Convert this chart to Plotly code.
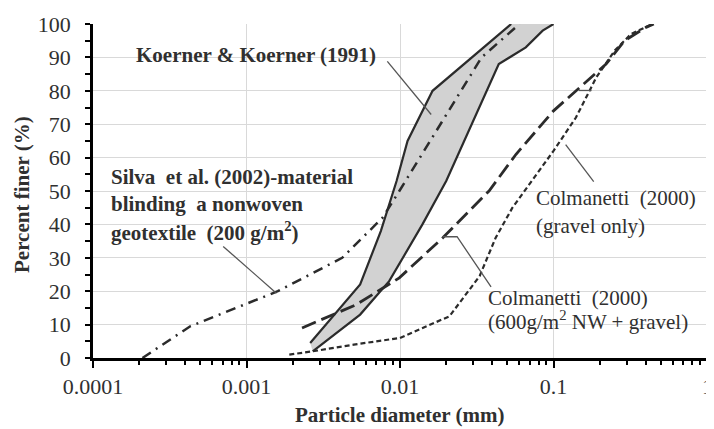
import plotly.graph_objects as go

# ---- data ----
koerner_upper_d = [0.0026, 0.0055, 0.0075, 0.0095, 0.0112, 0.0163, 0.053]
koerner_upper_p = [4.5, 22, 38, 53, 65, 80, 100]
koerner_lower_d = [0.0027, 0.0055, 0.0085, 0.014, 0.02, 0.044, 0.066, 0.085, 0.1]
koerner_lower_p = [2, 13, 23, 40, 53, 88, 93, 98, 100]
silva_d = [0.00021, 0.00043, 0.0016, 0.0042, 0.0077, 0.0099, 0.034, 0.06]
silva_p = [0, 9.5, 20, 30, 42, 50, 90, 100]
nw_d = [0.0023, 0.0052, 0.0099, 0.019, 0.038, 0.057, 0.1, 0.14, 0.22, 0.29, 0.4, 0.45]
nw_p = [9, 16, 24, 36, 50, 61, 74, 80, 88, 95, 99, 100]
gravel_d = [0.0019, 0.0027, 0.005, 0.01, 0.021, 0.033, 0.042, 0.054, 0.1, 0.14, 0.19, 0.25, 0.32, 0.44]
gravel_p = [1, 2, 4, 6, 12.5, 24.5, 36, 45, 62, 72, 84, 92, 97, 100]

# leader lines (annotation pointers)
koerner_leader_d = [0.00827, 0.01596]
koerner_leader_p = [88.8, 72.9]
silva_leader_d = [0.000705, 0.001567]
silva_leader_p = [33.4, 19.4]
gravel_leader_d = [0.1828, 0.120]
gravel_leader_p = [52.8, 63.9]
nw_leader_d = [0.0392, 0.02355, 0.01883]
nw_leader_p = [21.3, 36.3, 36.3]
stub_d = [0.146, 0.177]
stub_p = [80.1, 80.1]

x_tickvals = [0.0001, 0.001, 0.01, 0.1, 1]
x_ticktext = ["0.0001", "0.001", "0.01", "0.1", ""]
x_last_label = "1"

LINE = "#2b2b2b"
TXT = "#303030"
SERIF = "Liberation Serif, DejaVu Serif, serif"

fig = go.Figure()

# Koerner band fill
fig.add_trace(go.Scatter(
    x=koerner_upper_d + koerner_lower_d[::-1],
    y=koerner_upper_p + koerner_lower_p[::-1],
    fill="toself", fillcolor="#d2d2d2", mode="lines",
    line=dict(width=0), hoverinfo="skip", showlegend=False))
fig.add_trace(go.Scatter(x=koerner_upper_d, y=koerner_upper_p, mode="lines",
                         line=dict(color=LINE, width=2.2), showlegend=False))
fig.add_trace(go.Scatter(x=koerner_lower_d, y=koerner_lower_p, mode="lines",
                         line=dict(color=LINE, width=2.2), showlegend=False))
fig.add_trace(go.Scatter(x=silva_d, y=silva_p, mode="lines",
                         line=dict(color=LINE, width=2.5, dash="10px,6px,2px,6px"), showlegend=False))
fig.add_trace(go.Scatter(x=nw_d, y=nw_p, mode="lines",
                         line=dict(color=LINE, width=2.8, dash="15px,6px"), showlegend=False))
fig.add_trace(go.Scatter(x=gravel_d, y=gravel_p, mode="lines",
                         line=dict(color=LINE, width=2.2, dash="5px,3px"), showlegend=False))

for ld, lp in [(koerner_leader_d, koerner_leader_p), (silva_leader_d, silva_leader_p),
               (gravel_leader_d, gravel_leader_p), (nw_leader_d, nw_leader_p), (stub_d, stub_p)]:
    fig.add_trace(go.Scatter(x=ld, y=lp, mode="lines",
                             line=dict(color="#555555", width=1.3), hoverinfo="skip", showlegend=False))

def note(text, xlog, y, bold=False):
    t = "<b>" + text + "</b>" if bold else text
    fig.add_annotation(x=xlog, y=y, xref="x", yref="y", text=t, showarrow=False,
                       xanchor="left", yanchor="middle", xshift=-3,
                       font=dict(family=SERIF, size=21, color=TXT))

note("Koerner &amp; Koerner (1991)", -3.712, 90.7, bold=True)
note("Silva  et al. (2002)-material", -3.877, 54.3, bold=True)
note("blinding  a nonwoven", -3.877, 46.0, bold=True)
note("geotextile  (200 g/m<sup>2</sup>)", -3.877, 37.8, bold=True)
note("Colmanetti  (2000)", -1.110, 48.0)
note("(gravel only)", -1.110, 39.6)
note("Colmanetti  (2000)", -1.420, 18.0)
note("(600g/m<sup>2</sup> NW + gravel)", -1.420, 11.1)

# last x tick label (drawn as annotation so it is not hidden at the page edge)
fig.add_annotation(x=1, y=0, xref="paper", yref="paper", xanchor="center", yanchor="middle",
                   yshift=-28, text=x_last_label, showarrow=False,
                   font=dict(family=SERIF, size=22, color=TXT))

# axis titles
fig.add_annotation(x=0.5, y=0, xref="paper", yref="paper", yanchor="middle", yshift=-57,
                   text="<b>Particle diameter (mm)</b>", showarrow=False,
                   font=dict(family=SERIF, size=21, color=TXT))
fig.add_annotation(x=0, y=0.5, xref="paper", yref="paper", xanchor="center", yanchor="middle",
                   xshift=-71, yshift=-4, textangle=-90,
                   text="<b>Percent finer (%)</b>", showarrow=False,
                   font=dict(family=SERIF, size=21, color=TXT))

# gridline at the right edge (x = 1)
fig.add_shape(type="line", xref="paper", yref="paper", x0=1, x1=1, y0=0, y1=1,
              line=dict(color="#d9d9d9", width=1), layer="below")

# page body has an 8px default margin, so the figure is sized to fit the 714x429 window
fig.update_layout(
    width=706, height=421,
    margin=dict(l=85, r=7, t=16, b=71, autoexpand=False),
    paper_bgcolor="white", plot_bgcolor="white",
    font=dict(family=SERIF, color=TXT),
    xaxis=dict(
        type="log", range=[-4, 0], automargin=False,
        tickvals=x_tickvals, ticktext=x_ticktext,
        showgrid=True, gridcolor="#d9d9d9", gridwidth=1,
        showline=True, linecolor="black", linewidth=2.5,
        ticks="outside", ticklen=7, tickwidth=2, tickcolor="black",
        tickfont=dict(family=SERIF, size=22, color=TXT),
        ticklabelstandoff=0, ticklabeloverflow="allow",
        minor=dict(ticks="outside", ticklen=4, tickwidth=1.5, tickcolor="black",
                   dtick="D1", showgrid=False),
        zeroline=False,
    ),
    yaxis=dict(
        range=[0, 100], dtick=10, automargin=False,
        showgrid=True, gridcolor="#d9d9d9", gridwidth=1,
        showline=True, linecolor="black", linewidth=2.5,
        ticks="outside", ticklen=5, tickwidth=2, tickcolor="black",
        tickfont=dict(family=SERIF, size=22, color=TXT),
        ticklabelstandoff=10,
        minor=dict(ticks="outside", ticklen=5, tickwidth=1.5, tickcolor="black",
                   dtick=5, showgrid=False),
        zeroline=False,
    ),
)

fig.write_html("out.html")
